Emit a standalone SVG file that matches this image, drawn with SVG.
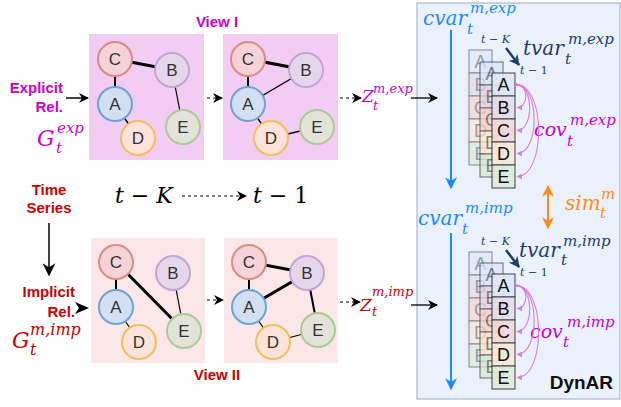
<svg xmlns="http://www.w3.org/2000/svg" width="621" height="407" viewBox="0 0 621 407">
<defs>
<marker id="ah" viewBox="0 0 10 10" refX="9" refY="5" markerWidth="10" markerHeight="10" markerUnits="userSpaceOnUse" orient="auto"><path d="M0,0 L10,5 L0,10 L3,5 z" fill="#000"/></marker>
<marker id="ahBig" viewBox="0 0 10 10" refX="9" refY="5" markerWidth="13" markerHeight="13" markerUnits="userSpaceOnUse" orient="auto"><path d="M0,0 L10,5 L0,10 L3,5 z" fill="#000"/></marker>
<marker id="ahBlue" viewBox="0 0 10 10" refX="9" refY="5" markerWidth="12" markerHeight="12" markerUnits="userSpaceOnUse" orient="auto"><path d="M0,0 L10,5 L0,10 L3,5 z" fill="#1A8CFF"/></marker>
<marker id="ahNavy" viewBox="0 0 10 10" refX="9" refY="5" markerWidth="11" markerHeight="11" markerUnits="userSpaceOnUse" orient="auto"><path d="M0,0 L10,5 L0,10 L3,5 z" fill="#1F3D6B"/></marker>
<marker id="ahOr" viewBox="0 0 10 10" refX="9" refY="5" markerWidth="12" markerHeight="12" markerUnits="userSpaceOnUse" orient="auto-start-reverse"><path d="M0,0 L10,5 L0,10 L3,5 z" fill="#FF8C1A"/></marker>
<marker id="ahMg" viewBox="0 0 10 10" refX="9" refY="5" markerWidth="6" markerHeight="6" markerUnits="userSpaceOnUse" orient="auto"><path d="M0,0 L10,5 L0,10 z" fill="#DD6FDD"/></marker>
<style>
.lbl{font-family:"Liberation Sans",Arial,sans-serif;font-weight:bold;font-size:15px}
.mg{fill:#CC00CC}
.rd{fill:#CC0000}
.m{font-family:"DejaVu Serif",serif;font-style:italic}
.up{font-style:normal}
.nl{font-family:"Liberation Sans",Arial,sans-serif;font-size:17px;fill:#333;text-anchor:middle}
.nA{fill:#D3DFF2;stroke:#6DA3D6;stroke-width:2}
.nB{fill:#E6D6EC;stroke:#C2A5D6;stroke-width:2}
.nC{fill:#F6D3D8;stroke:#D98C84;stroke-width:2}
.nD{fill:#FCE3DA;stroke:#EFC05E;stroke-width:2}
.nE{fill:#E4E3DA;stroke:#A9CC94;stroke-width:2}
.e{stroke:#000;fill:none}
.dash{stroke:#000;stroke-width:1.2;stroke-dasharray:3,3;fill:none}
.arc{stroke:#DD6FDD;stroke-width:1.1;fill:none;opacity:0.9}
.cl{font-family:"Liberation Sans",Arial,sans-serif;font-size:18px;text-anchor:middle}
.cell{stroke:#333;stroke-width:1}
</style>
</defs>

<!-- background panels -->
<rect x="417" y="3" width="203" height="396" fill="#EAF1FB" stroke="#A9B8CC" stroke-width="1.2"/>
<rect x="89" y="34" width="115" height="126" fill="#F3CCF3"/>
<rect x="223" y="34" width="115" height="126" fill="#F3CCF3"/>
<rect x="91" y="238" width="114" height="125" fill="#FBE7E7"/>
<rect x="224" y="238" width="114" height="125" fill="#FBE7E7"/>

<!-- connectors -->
<g id="connectors">
<line class="e" x1="115" y1="59" x2="172" y2="70" stroke-width="3"/>
<line class="e" x1="115" y1="59" x2="115" y2="104" stroke-width="2"/>
<line class="e" x1="115" y1="104" x2="138" y2="138" stroke-width="1.4"/>
<line class="e" x1="172" y1="70" x2="183" y2="127" stroke-width="1.2"/>

<line class="e" x1="248" y1="59" x2="306" y2="70" stroke-width="3"/>
<line class="e" x1="248" y1="59" x2="248" y2="104" stroke-width="2"/>
<line class="e" x1="248" y1="104" x2="306" y2="70" stroke-width="1.2"/>
<line class="e" x1="248" y1="104" x2="271" y2="138" stroke-width="1.4"/>
<line class="e" x1="271" y1="138" x2="317" y2="127" stroke-width="1.4"/>

<line class="e" x1="116" y1="262" x2="116" y2="307" stroke-width="2"/>
<line class="e" x1="116" y1="262" x2="184" y2="331" stroke-width="3"/>
<line class="e" x1="173" y1="273" x2="184" y2="331" stroke-width="1.2"/>
<line class="e" x1="116" y1="307" x2="139" y2="342" stroke-width="1.2"/>

<line class="e" x1="249" y1="262" x2="307" y2="273" stroke-width="3"/>
<line class="e" x1="249" y1="262" x2="249" y2="307" stroke-width="2"/>
<line class="e" x1="249" y1="307" x2="307" y2="273" stroke-width="3"/>
<line class="e" x1="307" y1="273" x2="318" y2="330" stroke-width="2"/>
<line class="e" x1="249" y1="307" x2="273" y2="342" stroke-width="1.2"/>
<line class="e" x1="273" y1="342" x2="318" y2="330" stroke-width="1.2"/>

<line x1="66" y1="98" x2="88" y2="98" stroke="#000" stroke-width="1.5" marker-end="url(#ah)"/>
<path d="M75,302 L89,308 L75,314 L79,308 z" fill="#000"/>
<line x1="49" y1="223" x2="49" y2="275" stroke="#000" stroke-width="1.5" marker-end="url(#ahBig)"/>

<line class="dash" x1="207" y1="98" x2="222" y2="98" marker-end="url(#ah)"/>
<line class="dash" x1="207" y1="300" x2="223" y2="300" marker-end="url(#ah)"/>
<line class="dash" x1="340" y1="98" x2="361" y2="98" marker-end="url(#ah)"/>
<line class="dash" x1="340" y1="302" x2="360" y2="302" marker-end="url(#ah)"/>
<line class="dash" x1="182" y1="196" x2="246" y2="196" marker-end="url(#ah)"/>

<line x1="411" y1="98" x2="437" y2="98" stroke="#000" stroke-width="1.3" marker-end="url(#ah)"/>
<line x1="411" y1="305" x2="437" y2="305" stroke="#000" stroke-width="1.3" marker-end="url(#ah)"/>

<line x1="451" y1="30" x2="451" y2="188" stroke="#1A8CFF" stroke-width="2" marker-end="url(#ahBlue)"/>
<line x1="451" y1="233" x2="451" y2="389" stroke="#1A8CFF" stroke-width="2" marker-end="url(#ahBlue)"/>
<line x1="548" y1="186" x2="548" y2="228" stroke="#FF8C1A" stroke-width="2" marker-start="url(#ahOr)" marker-end="url(#ahOr)"/>
<line x1="506" y1="48" x2="519" y2="65" stroke="#1F3D6B" stroke-width="2.5" marker-end="url(#ahNavy)"/>
<line x1="506" y1="250" x2="519" y2="267" stroke="#1F3D6B" stroke-width="2.5" marker-end="url(#ahNavy)"/>
</g>

<!-- graph nodes: View I, step t-K -->
<g id="g1-C"><circle class="nC" cx="115" cy="59" r="17"/><text class="nl" x="115" y="65">C</text></g>
<g id="g1-B"><circle class="nB" cx="172" cy="70" r="17"/><text class="nl" x="172" y="76">B</text></g>
<g id="g1-A"><circle class="nA" cx="115" cy="104" r="17"/><text class="nl" x="115" y="110">A</text></g>
<g id="g1-D"><circle class="nD" cx="138" cy="138" r="17"/><text class="nl" x="138" y="144">D</text></g>
<g id="g1-E"><circle class="nE" cx="183" cy="127" r="17"/><text class="nl" x="183" y="133">E</text></g>
<!-- View I, step t-1 -->
<g id="g2-C"><circle class="nC" cx="248" cy="59" r="17"/><text class="nl" x="248" y="65">C</text></g>
<g id="g2-B"><circle class="nB" cx="306" cy="70" r="17"/><text class="nl" x="306" y="76">B</text></g>
<g id="g2-A"><circle class="nA" cx="248" cy="104" r="17"/><text class="nl" x="248" y="110">A</text></g>
<g id="g2-D"><circle class="nD" cx="271" cy="138" r="17"/><text class="nl" x="271" y="144">D</text></g>
<g id="g2-E"><circle class="nE" cx="317" cy="127" r="17"/><text class="nl" x="317" y="133">E</text></g>
<!-- View II, step t-K -->
<g id="g3-C"><circle class="nC" cx="116" cy="262" r="17"/><text class="nl" x="116" y="268">C</text></g>
<g id="g3-B"><circle class="nB" cx="173" cy="273" r="17"/><text class="nl" x="173" y="279">B</text></g>
<g id="g3-A"><circle class="nA" cx="116" cy="307" r="17"/><text class="nl" x="116" y="313">A</text></g>
<g id="g3-D"><circle class="nD" cx="139" cy="342" r="17"/><text class="nl" x="139" y="348">D</text></g>
<g id="g3-E"><circle class="nE" cx="184" cy="331" r="17"/><text class="nl" x="184" y="337">E</text></g>
<!-- View II, step t-1 -->
<g id="g4-C"><circle class="nC" cx="249" cy="262" r="17"/><text class="nl" x="249" y="268">C</text></g>
<g id="g4-B"><circle class="nB" cx="307" cy="273" r="17"/><text class="nl" x="307" y="279">B</text></g>
<g id="g4-A"><circle class="nA" cx="249" cy="307" r="17"/><text class="nl" x="249" y="313">A</text></g>
<g id="g4-D"><circle class="nD" cx="273" cy="342" r="17"/><text class="nl" x="273" y="348">D</text></g>
<g id="g4-E"><circle class="nE" cx="318" cy="330" r="17"/><text class="nl" x="318" y="336">E</text></g>

<!-- left labels -->
<g id="lbl-explicit">
<text class="lbl mg" x="63" y="93" text-anchor="end">Explicit</text>
<text class="lbl mg" x="63" y="112" text-anchor="end">Rel.</text>
<text class="m mg" x="37" y="146" font-size="22">G</text>
<text class="m mg" x="57" y="133" font-size="15">exp</text>
<text class="m mg" x="56" y="153" font-size="15">t</text>
</g>
<g id="lbl-time">
<text class="lbl rd" x="49" y="195" text-anchor="middle">Time</text>
<text class="lbl rd" x="49" y="213" text-anchor="middle">Series</text>
</g>
<g id="lbl-implicit">
<text class="lbl rd" x="75" y="297" text-anchor="end">Implicit</text>
<text class="lbl rd" x="75" y="317" text-anchor="end">Rel.</text>
<text class="m rd" x="12" y="348" font-size="22">G</text>
<text class="m rd" x="30" y="335" font-size="16">m,imp</text>
<text class="m rd" x="30" y="355" font-size="16">t</text>
</g>
<text class="lbl mg" x="217" y="27" text-anchor="middle">View I</text>
<text class="lbl rd" x="217" y="380" text-anchor="middle">View II</text>

<g id="lbl-steps" fill="#000">
<text class="m" x="115" y="203" font-size="22">t <tspan class="up">−</tspan> K</text>
<text class="m" x="253" y="203" font-size="22">t <tspan class="up">− 1</tspan></text>
</g>

<g id="z-exp" class="mg">
<text class="m" x="362" y="102" font-size="17">Z</text>
<text class="m" x="373" y="93" font-size="13">m,exp</text>
<text class="m" x="373" y="110" font-size="13">t</text>
</g>
<g id="z-imp" class="rd">
<text class="m" x="360" y="311" font-size="17">Z</text>
<text class="m" x="372" y="296" font-size="13">m,imp</text>
<text class="m" x="372" y="316" font-size="13">t</text>
</g>

<!-- DynAR panel texts -->
<g fill="#1A8CFF">
<text class="m" x="423" y="25" font-size="20">cvar</text>
<text class="m" x="470" y="13" font-size="15">m,exp</text>
<text class="m" x="467" y="34" font-size="15">t</text>
<text class="m" x="418" y="225" font-size="20">cvar</text>
<text class="m" x="465" y="213" font-size="15">m,imp</text>
<text class="m" x="462" y="234" font-size="15">t</text>
</g>
<g fill="#1F3D6B">
<text class="m" x="481" y="43" font-size="11">t <tspan class="up">−</tspan> K</text>
<text class="m" x="520" y="74" font-size="11">t <tspan class="up">− 1</tspan></text>
<text class="m" x="523" y="55" font-size="20">tvar</text>
<text class="m" x="568" y="44" font-size="15">m,exp</text>
<text class="m" x="565" y="64" font-size="15">t</text>
<text class="m" x="481" y="245" font-size="11">t <tspan class="up">−</tspan> K</text>
<text class="m" x="520" y="276" font-size="11">t <tspan class="up">− 1</tspan></text>
<text class="m" x="519" y="257" font-size="20">tvar</text>
<text class="m" x="563" y="246" font-size="15">m,imp</text>
<text class="m" x="561" y="265" font-size="15">t</text>
</g>
<g fill="#CC00CC">
<text class="m" x="534" y="136" font-size="19">cov</text>
<text class="m" x="570" y="125" font-size="15">m,exp</text>
<text class="m" x="567" y="146" font-size="15">t</text>
<text class="m" x="530" y="338" font-size="19">cov</text>
<text class="m" x="567" y="327" font-size="15">m,imp</text>
<text class="m" x="563" y="347" font-size="15">t</text>
</g>
<g fill="#FF8C1A">
<text class="m" x="565" y="210" font-size="20">sim</text>
<text class="m" x="601" y="199" font-size="15">m</text>
<text class="m" x="600" y="218" font-size="15">t</text>
</g>
<text x="613" y="389" text-anchor="end" font-family="Liberation Sans,Arial,sans-serif" font-weight="bold" font-size="19" fill="#111">DynAR</text>

<!-- stacks top -->
<g id="stack-exp">
<g opacity="0.55">
<rect class="cell" x="469" y="50" width="23" height="23" fill="#DAE8FC"/>
<rect class="cell" x="469" y="73" width="23" height="23" fill="#E1D5E7"/>
<rect class="cell" x="469" y="96" width="23" height="23" fill="#F8CECC"/>
<rect class="cell" x="469" y="119" width="23" height="23" fill="#FFE6CC"/>
<rect class="cell" x="469" y="142" width="23" height="23" fill="#D5E8D4"/>
<g class="cl" fill="#555"><text x="480.5" y="68">A</text><text x="480.5" y="91">B</text><text x="480.5" y="114">C</text><text x="480.5" y="137">D</text><text x="480.5" y="160">E</text></g>
</g>
<g opacity="0.7">
<rect class="cell" x="480" y="62" width="23" height="23" fill="#DAE8FC"/>
<rect class="cell" x="480" y="85" width="23" height="23" fill="#E1D5E7"/>
<rect class="cell" x="480" y="108" width="23" height="23" fill="#F8CECC"/>
<rect class="cell" x="480" y="131" width="23" height="23" fill="#FFE6CC"/>
<rect class="cell" x="480" y="154" width="23" height="23" fill="#D5E8D4"/>
<g class="cl" fill="#555"><text x="491.5" y="80">A</text><text x="491.5" y="103">B</text><text x="491.5" y="126">C</text><text x="491.5" y="149">D</text><text x="491.5" y="172">E</text></g>
</g>
<g opacity="0.92">
<rect class="cell" x="492" y="73" width="23" height="23" fill="#DFE8F6"/>
<rect class="cell" x="492" y="96" width="23" height="23" fill="#E6DDEC"/>
<rect class="cell" x="492" y="119" width="23" height="23" fill="#F3D9DA"/>
<rect class="cell" x="492" y="142" width="23" height="23" fill="#F8E9DA"/>
<rect class="cell" x="492" y="165" width="23" height="23" fill="#DDEBDC"/>
</g>
<g class="cl" fill="#111"><text x="503.5" y="91">A</text><text x="503.5" y="114">B</text><text x="503.5" y="137">C</text><text x="503.5" y="160">D</text><text x="503.5" y="183">E</text></g>
<circle cx="516" cy="84.5" r="1.6" fill="#DD6FDD"/>
<path class="arc" d="M516,84.5 C529,84.5 529,107.5 517,107.5" marker-end="url(#ahMg)"/>
<path class="arc" d="M516,84.5 C534,84.5 534,130.5 517,130.5" marker-end="url(#ahMg)"/>
<path class="arc" d="M516,84.5 C540,84.5 540,153.5 517,153.5" marker-end="url(#ahMg)"/>
<path class="arc" d="M516,84.5 C546,84.5 546,176.5 517,176.5" marker-end="url(#ahMg)"/>
</g>

<!-- stacks bottom -->
<g id="stack-imp">
<g opacity="0.55">
<rect class="cell" x="469" y="252" width="23" height="23" fill="#DAE8FC"/>
<rect class="cell" x="469" y="275" width="23" height="23" fill="#E1D5E7"/>
<rect class="cell" x="469" y="298" width="23" height="23" fill="#F8CECC"/>
<rect class="cell" x="469" y="321" width="23" height="23" fill="#FFE6CC"/>
<rect class="cell" x="469" y="344" width="23" height="23" fill="#D5E8D4"/>
<g class="cl" fill="#555"><text x="480.5" y="270">A</text><text x="480.5" y="293">B</text><text x="480.5" y="316">C</text><text x="480.5" y="339">D</text><text x="480.5" y="362">E</text></g>
</g>
<g opacity="0.7">
<rect class="cell" x="480" y="263" width="23" height="23" fill="#DAE8FC"/>
<rect class="cell" x="480" y="286" width="23" height="23" fill="#E1D5E7"/>
<rect class="cell" x="480" y="309" width="23" height="23" fill="#F8CECC"/>
<rect class="cell" x="480" y="332" width="23" height="23" fill="#FFE6CC"/>
<rect class="cell" x="480" y="355" width="23" height="23" fill="#D5E8D4"/>
<g class="cl" fill="#555"><text x="491.5" y="281">A</text><text x="491.5" y="304">B</text><text x="491.5" y="327">C</text><text x="491.5" y="350">D</text><text x="491.5" y="373">E</text></g>
</g>
<g opacity="0.92">
<rect class="cell" x="492" y="274" width="23" height="23" fill="#DFE8F6"/>
<rect class="cell" x="492" y="297" width="23" height="23" fill="#E6DDEC"/>
<rect class="cell" x="492" y="320" width="23" height="23" fill="#F3D9DA"/>
<rect class="cell" x="492" y="343" width="23" height="23" fill="#F8E9DA"/>
<rect class="cell" x="492" y="366" width="23" height="23" fill="#DDEBDC"/>
</g>
<g class="cl" fill="#111"><text x="503.5" y="292">A</text><text x="503.5" y="315">B</text><text x="503.5" y="338">C</text><text x="503.5" y="361">D</text><text x="503.5" y="384">E</text></g>
<circle cx="516" cy="285.5" r="1.6" fill="#DD6FDD"/>
<path class="arc" d="M516,285.5 C529,285.5 529,308.5 517,308.5" marker-end="url(#ahMg)"/>
<path class="arc" d="M516,285.5 C534,285.5 534,331.5 517,331.5" marker-end="url(#ahMg)"/>
<path class="arc" d="M516,285.5 C540,285.5 540,354.5 517,354.5" marker-end="url(#ahMg)"/>
<path class="arc" d="M516,285.5 C546,285.5 546,377.5 517,377.5" marker-end="url(#ahMg)"/>
</g>
</svg>
